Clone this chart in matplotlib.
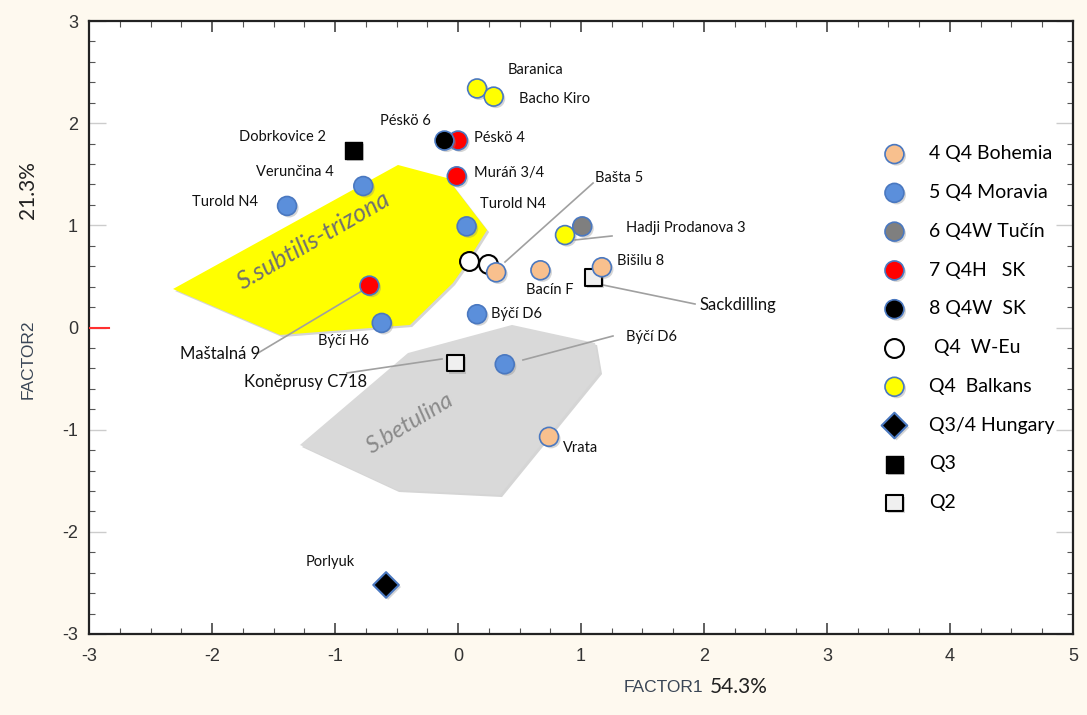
import matplotlib
matplotlib.use("Agg")
import matplotlib.pyplot as plt
from matplotlib.patches import Polygon
from matplotlib import patheffects as pe

plt.rcParams["axes.unicode_minus"] = False

# ---- scores on the first two factors, by group ----
bohemia_x = [0.31, 0.67, 1.17, 0.74]
bohemia_y = [0.54, 0.56, 0.59, -1.07]
moravia_x = [-0.77, -1.39, 0.07, -0.62, 0.155, 0.38]
moravia_y = [1.385, 1.19, 0.99, 0.045, 0.13, -0.36]
tucin_x = [1.01]
tucin_y = [0.99]
skh_x = [0.0, -0.01, -0.72]
skh_y = [1.83, 1.48, 0.41]
skw_x = [-0.11]
skw_y = [1.83]
weu_x = [0.09, 0.24]
weu_y = [0.65, 0.62]
balkans_x = [0.155, 0.29, 0.87]
balkans_y = [2.34, 2.26, 0.905]
hungary_x = [-0.585]
hungary_y = [-2.52]
q3_x = [-0.85]
q3_y = [1.73]
q2_x = [-0.02, 1.10]
q2_y = [-0.35, 0.49]

legend_labels = ["4 Q4 Bohemia", "5 Q4 Moravia", "6 Q4W Tučín", "7 Q4H   SK",
                 "8 Q4W  SK", " Q4  W-Eu", "Q4  Balkans", "Q3/4 Hungary", "Q3", "Q2"]

# ---- site names: (text, x, y, ha) ----
site_labels = [
    ("Baranica", 0.407, 2.52, "left"),
    ("Bacho Kiro", 0.496, 2.237, "left"),
    ("Péskö 6", -0.431, 2.021, "center"),
    ("Péskö 4", 0.13, 1.855, "left"),
    ("Dobrkovice 2", -1.431, 1.865, "center"),
    ("Verunčina 4", -1.325, 1.522, "center"),
    ("Muráň 3/4", 0.13, 1.512, "left"),
    ("Turold N4", -1.894, 1.228, "center"),
    ("Turold N4", 0.447, 1.209, "center"),
    ("Bašta 5", 1.114, 1.463, "left"),
    ("Hadji Prodanova 3", 1.366, 0.974, "left"),
    ("Bišilu 8", 1.293, 0.651, "left"),
    ("Bacín F", 0.748, 0.367, "center"),
    ("Sackdilling", 1.967, 0.22, "left"),
    ("Býčí D6", 0.268, 0.132, "left"),
    ("Býčí D6", 1.366, -0.093, "left"),
    ("Býčí H6", -0.927, -0.132, "center"),
    ("Maštalná 9", -1.935, -0.259, "center"),
    ("Koněprusy C718", -1.236, -0.533, "center"),
    ("Vrata", 0.854, -1.179, "left"),
    ("Porlyuk", -1.041, -2.295, "center"),
]
big_labels = {"Sackdilling", "Koněprusy C718", "Maštalná 9"}

# leader lines from points to their names
leaders = [
    ((0.382, 1.098), (0.641, 1.414)),
    ((0.951, 1.252), (0.857, 0.896)),
    ((1.179, 1.927), (0.416, 0.230)),
    ((-0.715, -1.626), (0.406, -0.250)),
    ((-0.130, -0.902), (-0.308, -0.445)),
    ((0.528, 1.260), (-0.318, -0.083)),
]

# ---- species hulls ----
trizona_x = [-2.317, -0.488, -0.089, 0.236, 0.033, -0.041, -0.390, -1.447]
trizona_y = [0.377, 1.591, 1.463, 0.954, 0.563, 0.436, 0.025, -0.073]
betulina_x = [-1.285, -0.407, 0.439, 1.114, 1.154, 0.341, -0.496]
betulina_y = [-1.150, -0.250, 0.025, -0.152, -0.435, -1.639, -1.590]

LABEL_FONT = ["Lato", "DejaVu Sans"]
NARROW_FONT = ["Liberation Sans Narrow", "Liberation Sans", "DejaVu Sans"]
EDGE = "#4a78c0"

fig = plt.figure(figsize=(10.87, 7.15), dpi=100, facecolor="#fef9ef")
ax = fig.add_axes([0.0819, 0.1133, 0.9052, 0.8573])
ax.set_facecolor("white")
ax.set_xlim(-3, 5)
ax.set_ylim(-3, 3)

shadow = [pe.SimplePatchShadow(offset=(1.5, -1.5), shadow_rgbFace="#888888", alpha=0.35), pe.Normal()]

ax.add_patch(Polygon(list(zip(trizona_x, trizona_y)), closed=True, facecolor="#ffff00",
                     edgecolor="none", zorder=1, path_effects=shadow))
ax.add_patch(Polygon(list(zip(betulina_x, betulina_y)), closed=True, facecolor="#d9d9d9",
                     edgecolor="none", zorder=1, path_effects=shadow))

ax.text(-1.17, 0.85, "S.subtilis-trizona", rotation=30, ha="center", va="center",
        fontsize=18, style="italic", color="#707070", family=LABEL_FONT, zorder=2)
ax.text(-0.39, -0.935, "S.betulina", rotation=31, ha="center", va="center",
        fontsize=17, style="italic", color="#8a8a8a", family=LABEL_FONT, zorder=2)

for (lx, ly) in leaders:
    ax.plot(lx, ly, color="#a0a0a0", lw=1.2, zorder=2)

S = 185
common = dict(linewidths=1.2, zorder=4, path_effects=shadow)
h_q2 = ax.scatter(q2_x, q2_y, marker="s", s=140, facecolor="#f0f0f0", edgecolor="black",
                  linewidths=1.5, zorder=3, path_effects=shadow)
h_q3 = ax.scatter(q3_x, q3_y, marker="s", s=150, facecolor="black", edgecolor="black",
                  linewidths=1.0, zorder=3, path_effects=shadow)
h_tucin = ax.scatter(tucin_x, tucin_y, s=S, facecolor="#7f7f7f", edgecolor=EDGE, **common)
h_skh = ax.scatter(skh_x, skh_y, s=S, facecolor="#ff0000", edgecolor=EDGE, **common)
h_skw = ax.scatter(skw_x, skw_y, s=S, facecolor="black", edgecolor=EDGE, **common)
h_weu = ax.scatter(weu_x, weu_y, s=S, facecolor="white", edgecolor="black", linewidths=1.5,
                   zorder=4)
h_boh = ax.scatter(bohemia_x, bohemia_y, s=S, facecolor="#f8c08e", edgecolor=EDGE, **common)
h_mor = ax.scatter(moravia_x, moravia_y, s=S, facecolor="#5b8fdb", edgecolor=EDGE, **common)
h_bal = ax.scatter(balkans_x, balkans_y, s=S, facecolor="#ffff00", edgecolor=EDGE, **common)
h_hun = ax.scatter(hungary_x, hungary_y, marker="D", s=170, facecolor="black", edgecolor=EDGE,
                   linewidths=1.5, zorder=4, path_effects=shadow)

for text, x, y, ha in site_labels:
    ax.text(x, y, text, ha=ha, va="center", fontsize=12 if text in big_labels else 10.5,
            family=LABEL_FONT, color="#111111", zorder=5)

# axes styling
for sp in ax.spines.values():
    sp.set_linewidth(1.6)
    sp.set_color("#222222")
ax.set_xticks(range(-3, 6))
ax.set_yticks(range(-3, 4))
ax.set_xticks([i * 0.25 for i in range(-12, 21)], minor=True)
ax.set_yticks([i * 0.2 for i in range(-15, 16)], minor=True)
ax.tick_params(axis="x", which="major", direction="in", length=8, width=1.2, color="#444444",
               top=True, labelsize=13, pad=10, labelcolor="#333333")
ax.tick_params(axis="y", which="major", direction="in", length=12, width=1.0, color="#cccccc",
               right=True, labelsize=13, pad=8, labelcolor="#333333")
ax.tick_params(which="minor", direction="in", length=4, width=0.8, color="#555555",
               top=True, right=True)
for lab in ax.get_xticklabels() + ax.get_yticklabels():
    lab.set_family(NARROW_FONT)
ax.axhline(0, xmin=0, xmax=0.02, color="#ff3030", lw=1.5, zorder=6)

ax.text(0.624, -0.088, "FACTOR1", transform=ax.transAxes, ha="right", va="center",
        fontsize=12.5, family=NARROW_FONT, color="#3a4656")
ax.text(0.631, -0.086, "54.3%", transform=ax.transAxes, ha="left", va="center",
        fontsize=15, family=LABEL_FONT, color="#222222")
ax.text(-0.062, 0.449, "FACTOR2", transform=ax.transAxes, ha="center", va="center",
        rotation=90, fontsize=12.5, family=NARROW_FONT, color="#3a4656")
ax.text(-0.062, 0.724, "21.3%", transform=ax.transAxes, ha="center", va="center",
        rotation=90, fontsize=15, family=LABEL_FONT, color="#222222")

handles = [h_boh, h_mor, h_tucin, h_skh, h_skw, h_weu, h_bal, h_hun, h_q3, h_q2]
leg = ax.legend(handles, legend_labels, loc="upper left", bbox_to_anchor=(0.781, 0.826),
                frameon=False, labelspacing=1.12, handletextpad=0.8,
                handlelength=2.0, scatterpoints=1, prop={"family": LABEL_FONT, "size": 14})

fig.savefig("out.png", dpi=100, facecolor=fig.get_facecolor())
